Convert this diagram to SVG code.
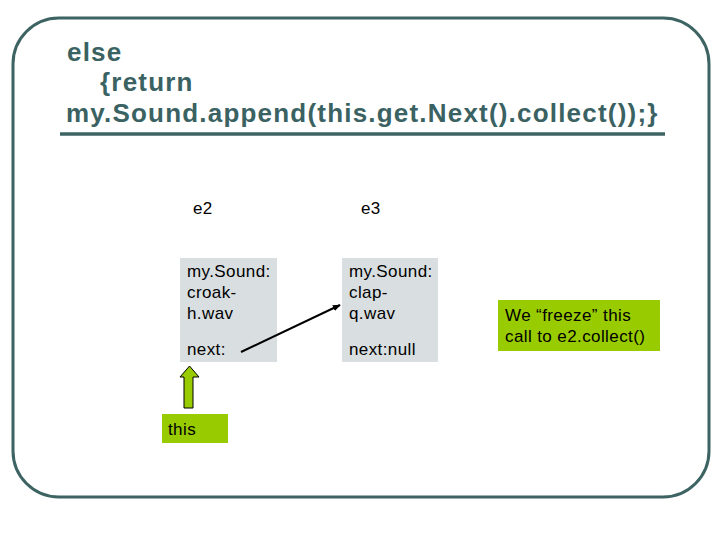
<svg xmlns="http://www.w3.org/2000/svg" width="720" height="540" viewBox="0 0 720 540">
<defs>
<style>
.title{font-family:"Liberation Sans",Arial,sans-serif;font-weight:bold;font-size:26px;letter-spacing:1.2px;fill:#3b6262}
.t{font-family:"Liberation Sans",Arial,sans-serif;font-size:17px;letter-spacing:0.4px;fill:#000}
.box{fill:#d9dfe0}
.green{fill:#99cc00}
</style>
<marker id="ah" viewBox="0 0 10 10" refX="9" refY="5" markerWidth="8" markerHeight="8" orient="auto" markerUnits="userSpaceOnUse">
<path d="M0,1 L10,5 L0,9 z" fill="#000"/>
</marker>
</defs>
<rect x="0" y="0" width="720" height="540" fill="#fff"/>
<rect x="13" y="18" width="696" height="479" rx="46" ry="46" fill="none" stroke="#3d6363" stroke-width="3"/>
<g id="title">
<text class="title" x="67" y="61">else</text>
<text class="title" x="100" y="91">{return</text>
<text class="title" x="66" y="122">my.Sound.append(this.get.Next().collect());}</text>
<line x1="60" y1="134" x2="665" y2="134" stroke="#3d6363" stroke-width="3.5"/>
</g>
<g id="e2">
<text class="t" x="193" y="214">e2</text>
<rect class="box" x="180" y="258" width="97" height="104"/>
<text class="t" x="187" y="277">my.Sound:</text>
<text class="t" x="187" y="298">croak-</text>
<text class="t" x="187" y="319">h.wav</text>
<text class="t" x="187" y="355">next:</text>
</g>
<g id="e3">
<text class="t" x="361" y="214">e3</text>
<rect class="box" x="342" y="258" width="96" height="104"/>
<text class="t" x="349" y="277">my.Sound:</text>
<text class="t" x="349" y="298">clap-</text>
<text class="t" x="349" y="319">q.wav</text>
<text class="t" x="349" y="355">next:null</text>
</g>
<g id="this">
<rect class="green" x="162" y="414" width="66" height="29"/>
<text class="t" x="168" y="435">this</text>
</g>
<g id="note">
<rect class="green" x="498" y="300" width="162" height="51"/>
<text class="t" x="505" y="321">We “freeze” this</text>
<text class="t" x="505" y="342">call to e2.collect()</text>
</g>
<g id="connectors">
<line x1="241" y1="352" x2="340" y2="305" stroke="#000" stroke-width="2" marker-end="url(#ah)"/>
<path d="M184,408 L184,377 L180,377 L189.5,366 L199,377 L193,377 L193,408 Z" fill="#99cc00" stroke="#000" stroke-width="1"/>
</g>
</svg>
